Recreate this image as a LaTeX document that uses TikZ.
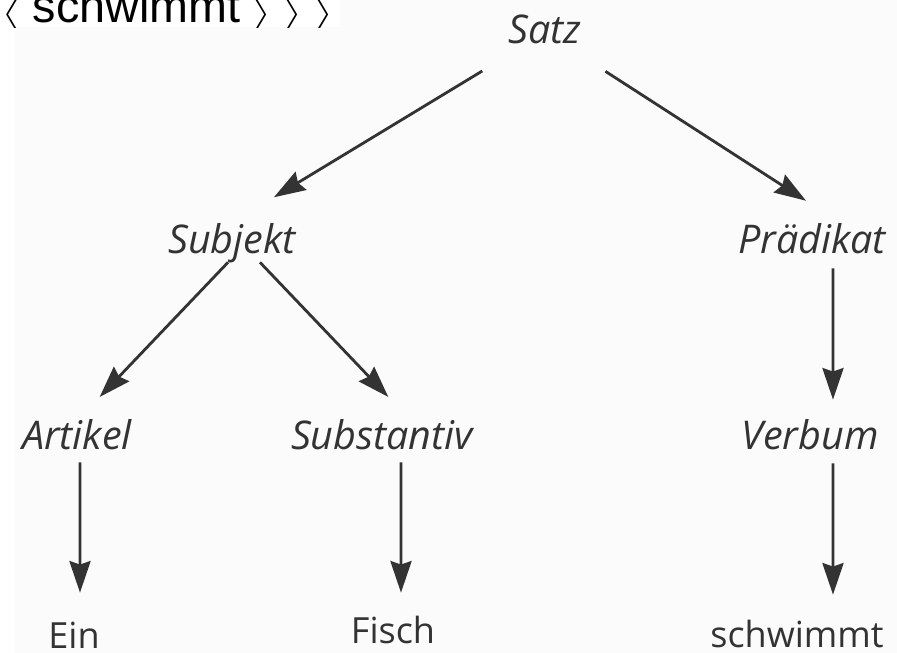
\documentclass[tikz,border=0pt]{standalone}
\usepackage{graphicx}
\usepackage{fontspec}
\setmainfont{Open Sans}
\newfontfamily\kopffont{Liberation Sans}
\usetikzlibrary{arrows.meta}
% angle bracket of the header line
\newcommand{\klam}[1]{\scalebox{1.55}[1]{\fontsize{17}{17}\selectfont$#1$}}

\begin{document}
\begin{tikzpicture}[x=0.02cm, y=-0.02cm,
    knot/.style={text=black!80, font=\fontsize{22.5}{26}\selectfont\itshape,
      inner sep=0pt, text height=0.6cm, text depth=0.18cm, anchor=base},
    wort/.style={knot, font=\fontsize{20.5}{24}\selectfont},
    kopf/.style={inner sep=0pt, anchor=base west, font=\kopffont\fontsize{26.6}{30}\selectfont},
    pfeil/.style={draw=black!80, line width=1.6pt,
      -{Stealth[length=18pt, width=12pt, inset=2pt]}}
  ]
  \useasboundingbox (0,0) rectangle (897,653);

  % scan and the strip above it
  \fill[gray!3] (15,0) rectangle (897,653);
  \fill[white] (0,0) rectangle (340,27);
  \begin{scope}
    \clip (0,0) rectangle (340,27);
    \node[kopf] (kopf) at (1,22) {\klam\langle{} schwimmt \klam\rangle{} \klam\rangle{} \klam\rangle};
  \end{scope}

  % Baum
  \node[knot] (satz)  at (545,43)  {Satz};
  \node[knot] (subj)  at (232,253) {Subjekt};
  \node[knot] (praed) at (812,253) {Prädikat};
  \node[knot] (art)   at (77,449)  {Artikel};
  \node[knot] (subst) at (382,449) {Substantiv};
  \node[knot] (verb)  at (810,449) {Verbum};
  \node[wort] (ein)   at (74,648)  {Ein};
  \node[wort] (fisch) at (393,643) {Fisch};
  \node[wort] (schw)  at (797,647) {schwimmt};

  \draw[pfeil, shorten <=0.72cm, shorten >=0.98cm] ([xshift=-0.64cm]satz.south) -- (subj.north);
  \draw[pfeil, shorten <=0.70cm, shorten >=0.81cm] ([xshift=0.62cm]satz.south) -- ([xshift=0.56cm]praed.north);
  \draw[pfeil, shorten >=0.6cm] ([xshift=-0.08cm]subj.south) -- ([xshift=0.04cm]art.north);
  \draw[pfeil, shorten >=0.6cm] ([xshift=0.56cm]subj.south) -- ([xshift=0.54cm]subst.north);
  \draw[pfeil, shorten <=0.12cm, shorten >=0.38cm] ([xshift=0.42cm]praed.south) -- ([xshift=0.46cm]verb.north);
  \draw[pfeil, shorten <=0.1cm, shorten >=0.44cm] ([xshift=0.46cm]verb.south) -- ([xshift=0.72cm]schw.north);
  \draw[pfeil, shorten <=0.08cm, shorten >=0.5cm] ([xshift=0.06cm]art.south) -- ([xshift=0.12cm]ein.north);
  \draw[pfeil, shorten <=0.08cm, shorten >=0.4cm] ([xshift=0.38cm]subst.south) -- ([xshift=0.16cm]fisch.north);
\end{tikzpicture}
\end{document}
